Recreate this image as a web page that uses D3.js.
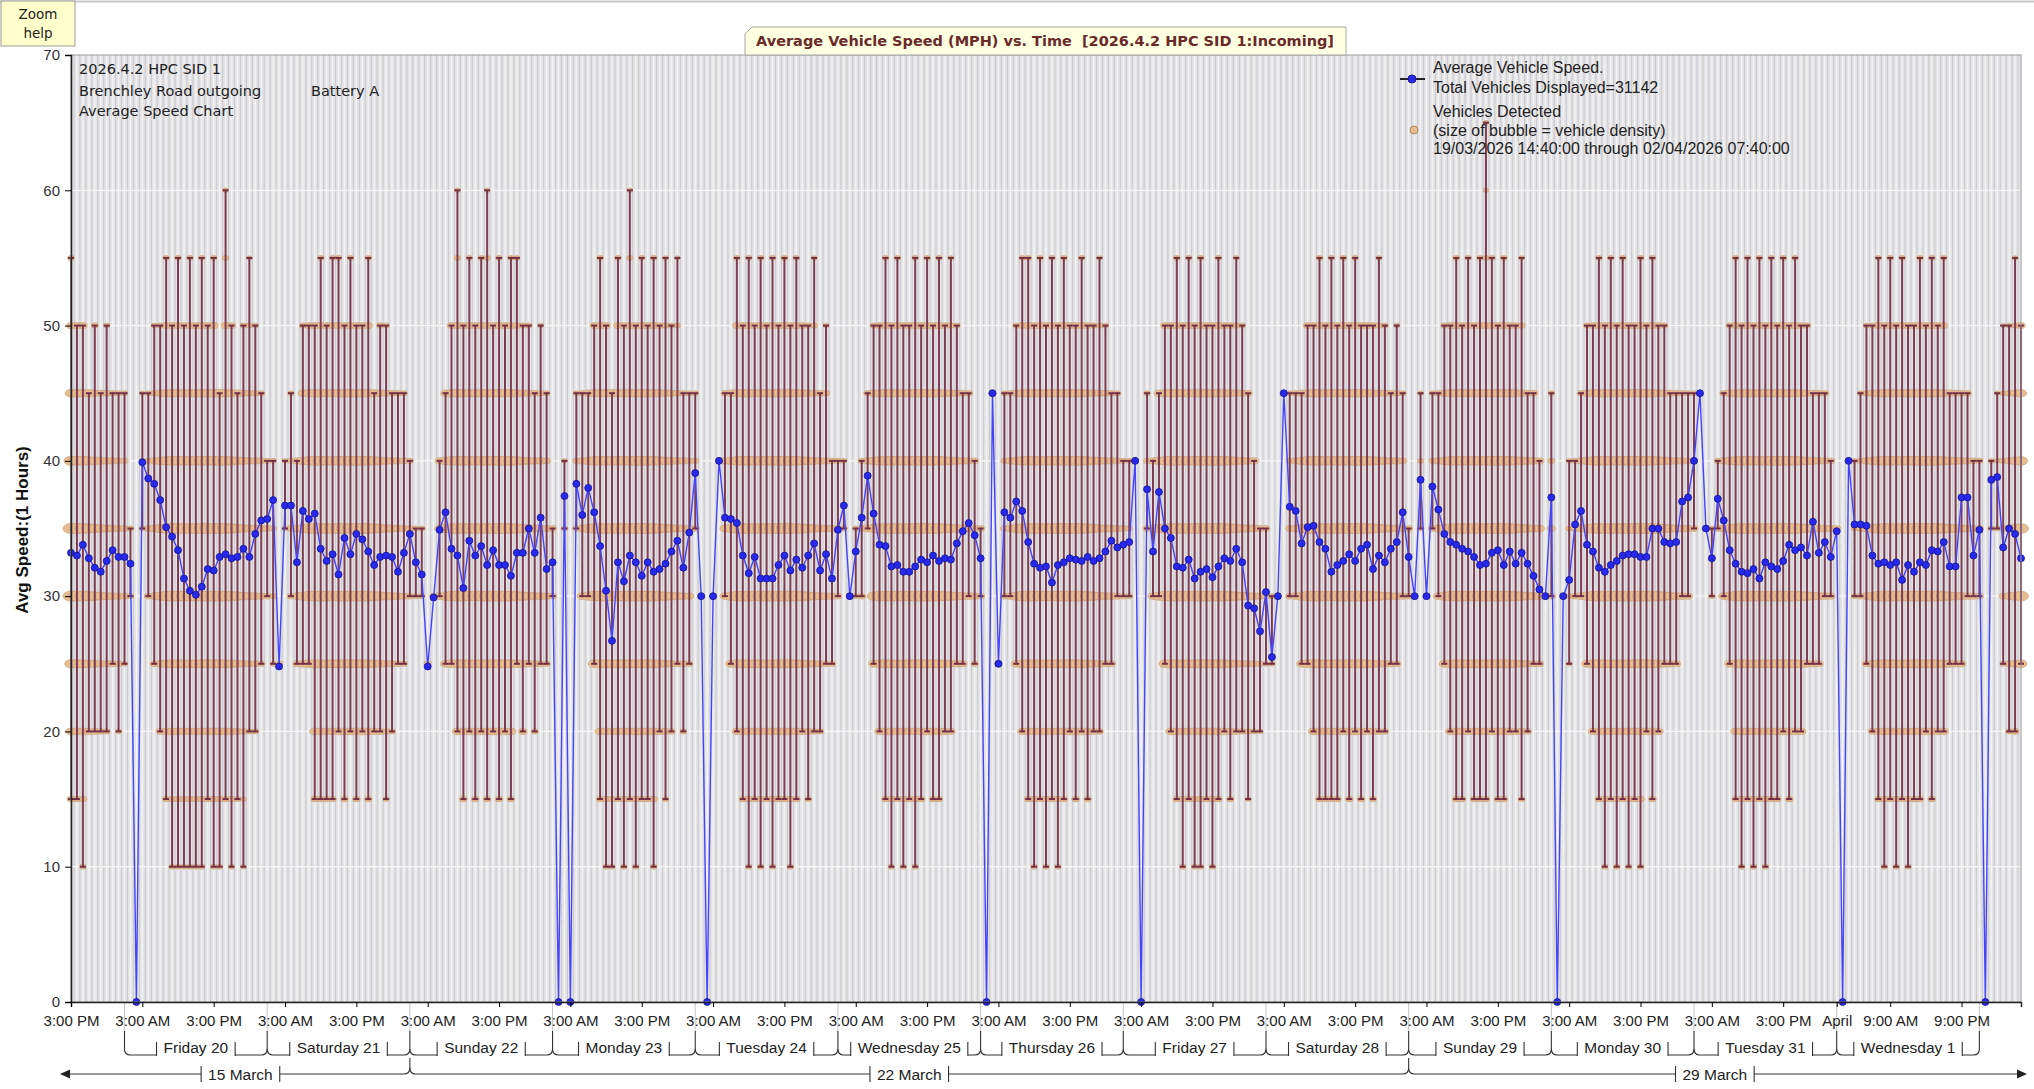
<!DOCTYPE html>
<html>
<head>
<meta charset="utf-8">
<script src="https://cdn.jsdelivr.net/npm/d3@7"></script>
<style>
  body { margin: 0; background: #fff; }
  svg { display: block; }
</style>
</head>
<body>
<svg></svg>
<script>
// hourly bins, first one is 19/03/2026 15:00
var startTime = Date.UTC(2026, 2, 19, 15, 0);

var avgSpeed = [
  // Thu 19 15:00 -> Fri 20 01:00
  33.2, 33.0, 33.8, 32.8, 32.1, 31.8, 32.6, 33.4, 32.9, 32.9, 32.4,
  0,
  // Fri 20 03:00 -> Mon 23 00:00
  39.9, 38.7, 38.3, 37.1, 35.1, 34.4, 33.4, 31.3, 30.4, 30.1, 30.7, 32.0, 31.9, 32.9, 33.1, 32.8, 32.9, 33.5,
  32.9, 34.6, 35.6, 35.7, 37.1, 24.8, 36.7, 36.7, 32.5, 36.3, 35.7, 36.1, 33.5, 32.6, 33.1, 31.6, 34.3, 33.1,
  34.6, 34.2, 33.3, 32.3, 32.9, 33.0, 32.9, 31.8, 33.2, 34.6, 32.5, 31.6, 24.8, 29.9, 34.9, 36.2, 33.5, 33.0,
  30.6, 34.1, 33.0, 33.7, 32.3, 33.4, 32.3, 32.3, 31.5, 33.2, 33.2, 35.0, 33.2, 35.8, 32.0, 32.5,
  0, 37.4, 0,
  // Mon 23 04:00 -> Tue 24 01:00
  38.3, 36.0, 38.0, 36.2, 33.7, 30.4, 26.7, 32.5, 31.1, 33.0, 32.5, 31.5, 32.5, 31.8, 32.0, 32.4, 33.3, 34.1,
  32.1, 34.7, 39.1, 30.0,
  0,
  // Tue 24 03:00 -> Thu 26 00:00
  30.0, 40.0, 35.8, 35.7, 35.4, 33.0, 31.7, 32.9, 31.3, 31.3, 31.3, 32.3, 33.0, 31.9, 32.7, 32.1, 33.0, 33.9,
  31.9, 33.1, 31.3, 34.9, 36.7, 30.0, 33.3, 35.8, 38.9, 36.1, 33.8, 33.7, 32.2, 32.3, 31.8, 31.8, 32.2, 32.7,
  32.5, 33.0, 32.6, 32.8, 32.7, 33.9, 34.8, 35.4, 34.5, 32.8,
  0, 45.0, 25.0,
  // Thu 26 04:00 -> Fri 27 02:00
  36.2, 35.8, 37.0, 36.3, 34.0, 32.4, 32.1, 32.2, 31.0, 32.3, 32.5, 32.8, 32.7, 32.6, 32.9, 32.6, 32.8, 33.3,
  34.1, 33.6, 33.8, 34.0, 40.0,
  0,
  // Fri 27 04:00 -> Sat 28 02:00
  37.9, 33.3, 37.7, 35.0, 34.3, 32.2, 32.1, 32.7, 31.3, 31.8, 32.0, 31.4, 32.2, 32.8, 32.6, 33.5, 32.5, 29.3,
  29.1, 27.4, 30.3, 25.5, 30.0,
  45.0,
  // Sat 28 04:00 -> Mon 30 00:00
  36.6, 36.3, 33.9, 35.1, 35.2, 34.0, 33.5, 31.8, 32.3, 32.6, 33.1, 32.6, 33.5, 33.8, 32.0, 33.0, 32.5, 33.5,
  34.0, 36.2, 32.9,
  30.0, 38.6, 30.0, 38.1, 36.4,
  34.6, 34.0, 33.8, 33.5, 33.3, 32.9, 32.3, 32.4, 33.2, 33.4, 32.3, 33.3, 32.4, 33.2, 32.4, 31.5, 30.5, 30.0, 37.3,
  0,
  // Mon 30 02:00 -> Tue 31 00:00
  30.0, 31.2, 35.3, 36.3, 33.8, 33.3, 32.1, 31.8, 32.3, 32.6, 33.0, 33.1, 33.1, 32.9, 32.9, 35.0, 35.0, 34.0,
  33.9, 34.0, 37.0, 37.3, 40.0,
  45.0,
  // Tue 31 02:00 -> Wed 1 00:00
  35.0, 32.8, 37.2, 35.6, 33.4, 32.4, 31.8, 31.7, 32.0, 31.3, 32.5, 32.2, 32.0, 32.6, 33.8, 33.4, 33.6, 33.0,
  35.5, 33.2, 34.0, 32.9, 34.8,
  0,
  // Wed 1 02:00 -> Thu 2 00:00
  40.0, 35.3, 35.3, 35.2, 33.0, 32.4, 32.5, 32.3, 32.5, 31.2, 32.3, 31.8, 32.5, 32.3, 33.4, 33.3, 34.0, 32.2,
  32.2, 37.3, 37.3, 33.0, 34.9,
  0,
  38.6, 38.8, 33.6, 35.0, 34.6, 32.8
];

// lowest and highest 5 mph speed bin seen in each hour (null = no vehicles)
var minSpeed = [
  15, 15, 10, 20, 20, 20, 20, 25, 20, 25, 30,
  null,
  35, 30, 25, 20, 15, 10, 10, 10, 10, 10, 10, 15, 10, 10, 15, 10, 15, 10,
  20, 20, 25, 30, 25, 25, 35, 30, 25, 25, 25, 15, 15, 15, 15, 20, 15, 20,
  15, 20, 15, 20, 20, 15, 20, 25, 25, 30, 30, 30, 25, 30, 30, 25, 25, 20,
  15, 20, 15, 20, 15, 20, 15, 20, 15, 25, 20, 25, 20, 25, 25, 30,
  null, 35, null,
  35, 30, 30, 25, 15, 10, 10, 15, 10, 15, 10, 15, 15, 10, 20, 15, 20, 25, 20, 25, 35, 30,
  null,
  30, 40, 30, 25, 20, 15, 10, 15, 10, 15, 10, 15, 15, 10, 15, 20, 15, 20, 20, 25, 25, 30, 35,
  30, 30, 30, 35, 25, 20, 15, 10, 15, 10, 15, 10, 15, 20, 15, 15, 20, 20, 25, 25, 30, 25, 30,
  null, 45, 25,
  30, 30, 25, 20, 15, 10, 15, 10, 15, 10, 15, 20, 15, 20, 15, 20, 20, 25, 25, 30, 30, 30, 40,
  null,
  35, 30, 30, 25, 20, 15, 10, 15, 10, 10, 15, 10, 15, 20, 15, 20, 20, 15, 20, 20, 25, 25, 30,
  45,
  30, 30, 25, 25, 20, 15, 15, 15, 15, 20, 15, 20, 15, 20, 15, 20, 20, 25, 25, 30, 30,
  30, 35, 30, 35, 30,
  25, 20, 15, 15, 20, 15, 15, 15, 20, 15, 15, 20, 20, 15, 20, 25, 25, 30, 30,
  null,
  30, 25, 30, 30, 25, 20, 15, 10, 15, 10, 15, 10, 15, 10, 20, 15, 20, 25, 25, 25, 30, 30, 35,
  45,
  35, 30, 35, 30, 25, 15, 10, 15, 10, 15, 10, 15, 15, 20, 15, 20, 20, 25, 25, 25, 30, 30, 35,
  null,
  40, 30, 30, 25, 20, 15, 10, 15, 10, 15, 10, 15, 15, 20, 15, 20, 20, 25, 25, 25, 30, 30, 30,
  null,
  35, 35, 25, 20, 20, 25
];

var maxSpeed = [
  55, 50, 50, 45, 50, 45, 50, 45, 45, 45, 35,
  null,
  45, 45, 50, 50, 55, 50, 55, 50, 55, 50, 55, 50, 55, 45, 60, 50, 45, 50,
  55, 50, 45, 40, 40, 25, 40, 45, 40, 50, 50, 50, 55, 50, 55, 55, 50, 55,
  50, 50, 55, 45, 50, 50, 45, 45, 45, 40, 35, 35, 25, 30, 40, 45, 50, 60,
  50, 55, 50, 55, 60, 50, 55, 50, 55, 55, 50, 50, 45, 50, 45, 35,
  null, 40, null,
  45, 45, 45, 50, 55, 50, 45, 55, 50, 60, 50, 55, 50, 55, 50, 55, 50, 55, 45, 45, 45, 30,
  null,
  30, 40, 45, 45, 55, 50, 55, 50, 55, 50, 55, 50, 55, 50, 55, 50, 50, 55, 45, 50, 40, 40, 40,
  30, 35, 40, 45, 50, 50, 55, 50, 55, 50, 50, 55, 50, 55, 50, 55, 50, 55, 50, 45, 45, 40, 35,
  null, 45, 25,
  45, 45, 50, 55, 55, 50, 55, 50, 55, 50, 55, 50, 50, 55, 50, 50, 55, 50, 45, 45, 40, 40, 40,
  null,
  45, 40, 45, 50, 50, 55, 50, 55, 50, 55, 50, 50, 55, 50, 50, 55, 50, 45, 40, 35, 35, 30, 30,
  45,
  45, 45, 45, 50, 50, 55, 50, 55, 50, 55, 50, 55, 50, 50, 50, 55, 50, 45, 50, 45, 35,
  30, 45, 30, 45, 45,
  50, 50, 55, 50, 55, 50, 55, 65, 55, 50, 55, 50, 50, 55, 45, 45, 40, 30, 45,
  null,
  30, 40, 40, 45, 50, 50, 55, 50, 55, 50, 55, 50, 50, 55, 50, 55, 50, 50, 45, 45, 45, 45, 45,
  45,
  35, 35, 40, 45, 50, 55, 50, 55, 50, 55, 50, 55, 50, 55, 50, 55, 50, 50, 45, 45, 45, 40, 35,
  null,
  40, 40, 45, 50, 50, 55, 50, 55, 50, 55, 50, 50, 55, 50, 55, 50, 55, 45, 45, 45, 45, 40, 40,
  null,
  40, 45, 50, 50, 55, 50
];

// typical bubble size per speed bin and per hour of day
var speedBins = [10, 15, 20, 25, 30, 35, 40, 45, 50, 55, 60, 65];
var binWeight = [0.08, 0.14, 0.3, 0.55, 1, 1, 0.75, 0.45, 0.2, 0.08, 0.04, 0.04];
var dayProfile = [0.15, 0.1, 0.08, 0.08, 0.15, 0.3, 0.55, 0.85, 1, 0.95, 0.9, 0.9,
                  0.95, 0.95, 1, 1, 1, 0.95, 0.8, 0.6, 0.45, 0.35, 0.3, 0.2];

var yTicks = [0, 10, 20, 30, 40, 50, 60, 70];
var xTickHours = [0, 12, 24, 36, 48, 60, 72, 84, 96, 108, 120, 132, 144, 156, 168, 180, 192, 204,
                  216, 228, 240, 252, 264, 276, 288, 297, 306, 318];
var xTickLabels = ['3:00 PM', '3:00 AM', '3:00 PM', '3:00 AM', '3:00 PM', '3:00 AM', '3:00 PM',
                   '3:00 AM', '3:00 PM', '3:00 AM', '3:00 PM', '3:00 AM', '3:00 PM', '3:00 AM',
                   '3:00 PM', '3:00 AM', '3:00 PM', '3:00 AM', '3:00 PM', '3:00 AM', '3:00 PM',
                   '3:00 AM', '3:00 PM', '3:00 AM', '3:00 PM', 'April', '9:00 AM', '9:00 PM'];
var dayLabels = ['Friday 20', 'Saturday 21', 'Sunday 22', 'Monday 23', 'Tuesday 24', 'Wednesday 25',
                 'Thursday 26', 'Friday 27', 'Saturday 28', 'Sunday 29', 'Monday 30', 'Tuesday 31',
                 'Wednesday 1'];
var weekLabels = ['15 March', '22 March', '29 March'];
var weekStartDays = [15, 22, 29];

var W = 2034, H = 1089;
var HOUR = 3600 * 1000;
function t(h) { return new Date(startTime + h * HOUR); }
function day(m, d) { return new Date(Date.UTC(2026, m, d)); }

var svg = d3.select('svg')
    .attr('width', W)
    .attr('height', H)
    .style('font-family', '"Liberation Sans", Arial, sans-serif');

var pL = 71, pR = 2021, pT = 55, pB = 1002;
var x = d3.scaleUtc().domain([t(0), t(avgSpeed.length - 1)]).range([pL, pR]);
var y = d3.scaleLinear().domain([0, 70]).range([pB, pT]);

// page edge
svg.append('line').attr('x1', 0).attr('x2', W).attr('y1', 1.5).attr('y2', 1.5)
    .attr('stroke', '#c8c8c8').attr('stroke-width', 2);

// plot background with hour stripes
var plot = svg.append('g');
plot.append('rect')
    .attr('x', pL).attr('y', pT).attr('width', pR - pL).attr('height', pB - pT)
    .attr('fill', '#e4e4e6');

var hours = d3.range(avgSpeed.length);
plot.selectAll('line.hs').data(hours.slice(0, -1)).join('line')
    .attr('x1', function (h) { return x(t(h + 0.5)); })
    .attr('x2', function (h) { return x(t(h + 0.5)); })
    .attr('y1', pT).attr('y2', pB)
    .attr('stroke', '#cbcbd0').attr('stroke-width', 1.1);
plot.selectAll('line.hw').data(hours).join('line')
    .attr('x1', function (h) { return x(t(h)); })
    .attr('x2', function (h) { return x(t(h)); })
    .attr('y1', pT).attr('y2', pB)
    .attr('stroke', '#f4f4f4').attr('stroke-width', 1.2);
plot.selectAll('line.gy').data(yTicks.slice(1, -1)).join('line')
    .attr('x1', pL).attr('x2', pR)
    .attr('y1', function (d) { return y(d); }).attr('y2', function (d) { return y(d); })
    .attr('stroke', '#f6f6f6').attr('stroke-width', 1.2);

// bubbles: one per 5 mph bin between the hour's min and max
var bubbles = [];
hours.forEach(function (h) {
  if (minSpeed[h] == null) return;
  var hod = t(h).getUTCHours();
  for (var s = minSpeed[h]; s <= maxSpeed[h]; s += 5) {
    var k = speedBins.indexOf(s);
    var size = Math.sqrt(binWeight[k] * dayProfile[hod]);
    if (minSpeed[h] === maxSpeed[h]) size = Math.max(size, 0.35);
    bubbles.push({ h: h, s: s, size: size });
  }
});
plot.selectAll('ellipse.b').data(bubbles).join('ellipse')
    .attr('cx', function (d) { return x(t(d.h)); })
    .attr('cy', function (d) { return y(d.s); })
    .attr('rx', function (d) { return 1.6 + 6.4 * d.size; })
    .attr('ry', function (d) { return 1.5 + 3.6 * d.size; })
    .attr('fill', '#e6bd90')
    .attr('stroke', '#c79c72')
    .attr('stroke-width', 0.6);

// min-max bars with caps
var ranged = hours.filter(function (h) { return minSpeed[h] != null && maxSpeed[h] > minSpeed[h]; });
plot.selectAll('line.bar').data(ranged).join('line')
    .attr('x1', function (h) { return x(t(h)); })
    .attr('x2', function (h) { return x(t(h)); })
    .attr('y1', function (h) { return y(maxSpeed[h]); })
    .attr('y2', function (h) { return y(minSpeed[h]); })
    .attr('stroke', '#7e3c51')
    .attr('stroke-width', 2);
var caps = [];
ranged.forEach(function (h) { caps.push({ h: h, s: minSpeed[h] }); caps.push({ h: h, s: maxSpeed[h] }); });
plot.selectAll('line.cap').data(caps).join('line')
    .attr('x1', function (d) { return x(t(d.h)) - 3; })
    .attr('x2', function (d) { return x(t(d.h)) + 3; })
    .attr('y1', function (d) { return y(d.s); })
    .attr('y2', function (d) { return y(d.s); })
    .attr('stroke', '#713047')
    .attr('stroke-width', 2);

// average speed line
var line = d3.line()
    .x(function (d, i) { return x(t(i)); })
    .y(function (d) { return y(d); });
plot.append('path')
    .datum(avgSpeed)
    .attr('d', line)
    .attr('fill', 'none')
    .attr('stroke', '#4444ff')
    .attr('stroke-width', 1.4);
plot.selectAll('circle.pt').data(avgSpeed).join('circle')
    .attr('cx', function (d, i) { return x(t(i)); })
    .attr('cy', function (d) { return y(d); })
    .attr('r', 3.5)
    .attr('fill', '#2828ee')
    .attr('stroke', '#14148c')
    .attr('stroke-width', 0.8);

// frame
svg.append('rect')
    .attr('x', pL).attr('y', pT).attr('width', pR - pL).attr('height', pB - pT)
    .attr('fill', 'none').attr('stroke', '#9a9a9a').attr('stroke-width', 1);

// y axis
var yAxis = svg.append('g')
    .attr('transform', 'translate(' + pL + ',0)')
    .call(d3.axisLeft(y).tickValues(yTicks).tickSize(6).tickPadding(5));
yAxis.select('.domain').attr('stroke', '#222').attr('stroke-width', 1.5);
yAxis.selectAll('text').style('font-size', '15px').attr('fill', '#333');

svg.append('text')
    .attr('transform', 'translate(28,530) rotate(-90)')
    .attr('text-anchor', 'middle')
    .style('font-size', '17px')
    .style('font-weight', 'bold')
    .attr('fill', '#111')
    .text('Avg Speed:(1 Hours)');

// midnight guide lines under the axis
var midnights = d3.range(dayLabels.length + 1).map(function (i) { return day(2, 20 + i); });
svg.selectAll('line.mg').data(midnights).join('line')
    .attr('x1', function (d) { return x(d); }).attr('x2', function (d) { return x(d); })
    .attr('y1', pB + 1).attr('y2', 1032)
    .attr('stroke', '#c4c4c4').attr('stroke-width', 1);

// x axis
var xAxis = svg.append('g')
    .attr('transform', 'translate(0,' + pB + ')')
    .call(d3.axisBottom(x)
      .tickValues(xTickHours.map(t))
      .tickFormat(function (d, i) { return xTickLabels[i]; })
      .tickSize(5)
      .tickPadding(8));
xAxis.select('.domain').attr('stroke', '#222').attr('stroke-width', 1.5);
xAxis.selectAll('text').style('font-size', '15px').attr('fill', '#222');

// day brackets
var ax = svg.append('g').attr('fill', 'none').attr('stroke', '#333').attr('stroke-width', 1.1);
var yDay = 1055, rr = 6;
midnights.forEach(function (d) {
  ax.append('line')
      .attr('x1', x(d)).attr('x2', x(d)).attr('y1', 1031).attr('y2', yDay - rr);
});
dayLabels.forEach(function (lab, i) {
  var x0 = x(midnights[i]), x1 = x(midnights[i + 1]);
  var cx = (x0 + x1) / 2;
  var txt = svg.append('text')
      .attr('x', cx).attr('y', yDay - 2)
      .attr('text-anchor', 'middle')
      .style('font-size', '15.5px')
      .attr('fill', '#222')
      .text(lab);
  var w = txt.node().getComputedTextLength();
  var a = cx - w / 2 - 7, b = cx + w / 2 + 7;
  ax.append('path')
      .attr('d', 'M' + x0 + ',' + (yDay - rr) + 'Q' + x0 + ',' + yDay + ' ' + (x0 + rr) + ',' + yDay +
                 'L' + a + ',' + yDay + 'M' + a + ',' + (yDay - 13) + 'L' + a + ',' + (yDay + 1) +
                 'M' + b + ',' + (yDay - 13) + 'L' + b + ',' + (yDay + 1) +
                 'M' + b + ',' + yDay + 'L' + (x1 - rr) + ',' + yDay +
                 'Q' + x1 + ',' + yDay + ' ' + x1 + ',' + (yDay - rr));
});

// week brackets with arrows
var yWk = 1074, arrowL = 60, arrowR = 2027;
var weekEdges = weekStartDays.map(function (d) { return day(2, d); });
weekEdges.push(day(3, 5));
weekEdges.slice(1, -1).forEach(function (d) {
  ax.append('line')
      .attr('x1', x(d)).attr('x2', x(d)).attr('y1', 1058).attr('y2', yWk - rr);
});
weekLabels.forEach(function (lab, i) {
  var x0 = Math.max(x(weekEdges[i]), pL), x1 = Math.min(x(weekEdges[i + 1]), pR);
  var cx = (x0 + x1) / 2;
  var txt = svg.append('text')
      .attr('x', cx).attr('y', yWk + 5.5)
      .attr('text-anchor', 'middle')
      .style('font-size', '15.5px')
      .attr('fill', '#222')
      .text(lab);
  var w = txt.node().getComputedTextLength();
  var a = cx - w / 2 - 7, b = cx + w / 2 + 7;
  var d = '';
  if (i === 0) d += 'M' + (arrowL + 8) + ',' + yWk;
  else d += 'M' + x0 + ',' + (yWk - rr) + 'Q' + x0 + ',' + yWk + ' ' + (x0 + rr) + ',' + yWk;
  d += 'L' + a + ',' + yWk + 'M' + a + ',' + (yWk - 8) + 'L' + a + ',' + (yWk + 8) +
       'M' + b + ',' + (yWk - 8) + 'L' + b + ',' + (yWk + 8) + 'M' + b + ',' + yWk;
  if (i === weekLabels.length - 1) d += 'L' + (arrowR - 8) + ',' + yWk;
  else d += 'L' + (x1 - rr) + ',' + yWk + 'Q' + x1 + ',' + yWk + ' ' + x1 + ',' + (yWk - rr);
  ax.append('path').attr('d', d);
});
svg.append('path')
    .attr('d', 'M' + arrowL + ',' + yWk + 'L' + (arrowL + 10) + ',' + (yWk - 4.5) + 'L' + (arrowL + 10) + ',' + (yWk + 4.5) + 'Z' +
               'M' + arrowR + ',' + yWk + 'L' + (arrowR - 10) + ',' + (yWk - 4.5) + 'L' + (arrowR - 10) + ',' + (yWk + 4.5) + 'Z')
    .attr('fill', '#222');

// notes in the top-left corner
var note = svg.append('g')
    .style('font-family', '"DejaVu Sans", Tahoma, sans-serif')
    .style('font-size', '14.5px')
    .attr('fill', '#222');
note.append('text').attr('x', 79).attr('y', 74).text('2026.4.2 HPC SID 1');
note.append('text').attr('x', 79).attr('y', 96).text('Brenchley Road outgoing');
note.append('text').attr('x', 311).attr('y', 96).text('Battery A');
note.append('text').attr('x', 79).attr('y', 116).text('Average Speed Chart');

// legend
var lg = svg.append('g').style('font-size', '16px').attr('fill', '#222');
lg.append('line').attr('x1', 1400).attr('x2', 1425).attr('y1', 79).attr('y2', 79)
    .attr('stroke', '#222').attr('stroke-width', 2);
lg.append('circle').attr('cx', 1412).attr('cy', 79).attr('r', 4)
    .attr('fill', '#2828ee').attr('stroke', '#14148c');
lg.append('text').attr('x', 1433).attr('y', 73).text('Average Vehicle Speed.');
lg.append('text').attr('x', 1433).attr('y', 93).text('Total Vehicles Displayed=31142');
lg.append('text').attr('x', 1433).attr('y', 117).text('Vehicles Detected');
lg.append('circle').attr('cx', 1414).attr('cy', 130).attr('r', 4)
    .attr('fill', '#e6bd90').attr('stroke', '#b08860');
lg.append('text').attr('x', 1433).attr('y', 135.5).text('(size of bubble = vehicle density)');
lg.append('text').attr('x', 1433).attr('y', 154).text('19/03/2026 14:40:00 through 02/04/2026 07:40:00');

// title tab
var tx0 = 745, tx1 = 1346, ty0 = 27, ty1 = 55;
svg.append('path')
    .attr('d', 'M' + (tx0 + 7) + ',' + ty0 + 'L' + tx1 + ',' + ty0 + 'L' + tx1 + ',' + ty1 +
               'L' + tx0 + ',' + ty1 + 'L' + tx0 + ',' + (ty0 + 7) + 'Z')
    .attr('fill', '#ffffe1')
    .attr('stroke', '#a8a8a8');
svg.append('text')
    .attr('x', 1045).attr('y', 46)
    .attr('text-anchor', 'middle')
    .style('font-family', '"DejaVu Sans", Tahoma, sans-serif')
    .style('font-size', '13.5px')
    .style('font-weight', 'bold')
    .attr('fill', '#6b2a2a')
    .attr('textLength', 578)
    .attr('lengthAdjust', 'spacingAndGlyphs')
    .text('Average Vehicle Speed (MPH) vs. Time \u00a0[2026.4.2 HPC SID 1:Incoming]');

// zoom help button
svg.append('rect')
    .attr('x', 1).attr('y', 1).attr('width', 74).attr('height', 45)
    .attr('fill', '#ffffcc').attr('stroke', '#999');
var zh = svg.append('g')
    .style('font-family', '"DejaVu Sans", Tahoma, sans-serif')
    .style('font-size', '13.5px')
    .attr('fill', '#222')
    .attr('text-anchor', 'middle');
zh.append('text').attr('x', 38).attr('y', 19).text('Zoom');
zh.append('text').attr('x', 38).attr('y', 38).text('help');
</script>
</body>
</html>
